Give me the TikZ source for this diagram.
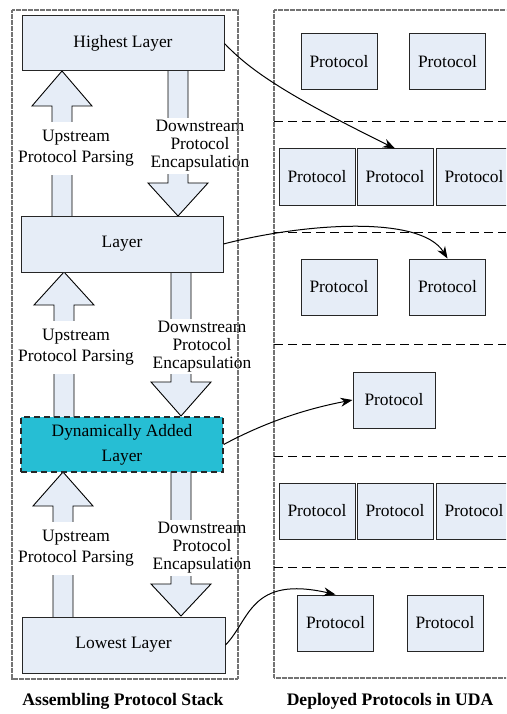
\documentclass[tikz,border=0pt]{standalone}
\usepackage{fontspec}
\setmainfont{Liberation Serif}
\newfontfamily\tms{Liberation Serif}
\usetikzlibrary{arrows.meta}
\definecolor{boxfill}{RGB}{230,237,247}
\definecolor{dynfill}{RGB}{38,190,212}
\begin{document}
\begin{tikzpicture}[x=1pt,y=-1pt,
  layerbox/.style={draw=black!85,line width=1pt,fill=boxfill,inner sep=0pt,font=\tms\fontsize{17.4}{20}\selectfont},
  protobox/.style={draw=black!85,line width=1pt,fill=boxfill,inner sep=0pt,minimum width=76,minimum height=56,font=\tms\fontsize{17.4}{20}\selectfont},
  fatarrow/.style={draw=black,line width=0.9pt,fill=boxfill,line join=miter},
  uplabel/.style={fill=white,inner xsep=1pt,inner ysep=8pt,align=center,font=\tms\fontsize{17.4}{21}\selectfont},
  downlabel/.style={fill=white,inner xsep=1pt,inner ysep=2pt,align=center,font=\tms\fontsize{17.4}{18}\selectfont},
  frame/.style={draw=black!55,line width=1.6pt,dash pattern=on 0.8pt off 0.4pt},
  sep/.style={draw=black,line width=1pt,dash pattern=on 9pt off 5pt},
  link/.style={draw=black,line width=1pt,-{Stealth[length=12pt,width=9pt]}},
  title/.style={font=\tms\bfseries\fontsize{17.6}{20}\selectfont}
]
\useasboundingbox (0,0) rectangle (506,714);
\begin{scope}
\clip (0,0) rectangle (506,714);
% fat arrows section 1
\draw[fatarrow] (52,216) -- (52,106) -- (32,106) -- (62,71) -- (92,106) -- (72,106) -- (72,216);
\draw[fatarrow] (168,71) -- (168,183) -- (148,183) -- (178,216) -- (208,183) -- (188,183) -- (188,71);
% section 2
\draw[fatarrow] (54,417) -- (54,305) -- (34,305) -- (64,272) -- (94,305) -- (74,305) -- (74,417);
\draw[fatarrow] (171,272) -- (171,382) -- (151,382) -- (181,416) -- (211,382) -- (191,382) -- (191,272);
% section 3
\draw[fatarrow] (53,617) -- (53,506) -- (33,506) -- (63,472) -- (93,506) -- (73,506) -- (73,617);
\draw[fatarrow] (171,472) -- (171,584) -- (151,584) -- (181,616) -- (211,584) -- (191,584) -- (191,472);

% labels
\node[uplabel] (up1) at (76,148.5) {Upstream\\Protocol Parsing};
\node[uplabel] (up2) at (76,347.5) {Upstream\\Protocol Parsing};
\node[uplabel] (up3) at (76,548.5) {Upstream\\Protocol Parsing};
\node[downlabel] (dn1) at (200,146) {Downstream\\Protocol\\Encapsulation};
\node[downlabel] (dn2) at (202,346.5) {Downstream\\Protocol\\Encapsulation};
\node[downlabel] (dn3) at (202,548) {Downstream\\Protocol\\Encapsulation};

% layer boxes
\node[layerbox,minimum width=202,minimum height=55] (hl) at (123,43.5) {Highest Layer};
\node[layerbox,minimum width=202,minimum height=56] (ly) at (122,244) {Layer};
\node[layerbox,fill=dynfill,dash pattern=on 6pt off 4pt,line width=1.4pt,minimum width=202,minimum height=55,align=center,font=\tms\fontsize{17.4}{25}\selectfont] (dy) at (122,444.5) {Dynamically Added\\Layer};
\node[layerbox,minimum width=203,minimum height=56] (lo) at (123.5,645) {Lowest Layer};

% frames
\draw[frame] (12,10) rectangle (238,679);
\draw[frame] (274,10) -- (520,10);
\draw[frame] (274,10) -- (274,678) -- (520,678);

% separators
\draw[sep] (274,122) -- (506,122);
\draw[sep] (274,232) -- (506,232);
\draw[sep] (274,344) -- (506,344);
\draw[sep] (274,456) -- (506,456);
\draw[sep] (274,567) -- (506,567);

% protocol boxes
\node[protobox] (p11) at (339,62) {Protocol};
\node[protobox] (p12) at (447.5,62) {Protocol};
\node[protobox] (p21) at (317,177) {Protocol};
\node[protobox] (p22) at (395,177) {Protocol};
\node[protobox] (p23) at (474,177) {Protocol};
\node[protobox] (p31) at (339,287) {Protocol};
\node[protobox] (p32) at (447.5,287) {Protocol};
\node[protobox,minimum width=82] (p41) at (394,400) {Protocol};
\node[protobox] (p51) at (317,511) {Protocol};
\node[protobox] (p52) at (395,511) {Protocol};
\node[protobox] (p53) at (474,511) {Protocol};
\node[protobox] (p61) at (335.5,623) {Protocol};
\node[protobox] (p62) at (445,623) {Protocol};

% links
\draw[link] (hl.east) .. controls (248,68) and (280,92) .. (p22.north);
\draw[link] (ly.east) .. controls (300,224) and (420,214) .. (p32.north);
\draw[link] (dy.east) .. controls (260,425) and (300,410) .. (p41.west);
\draw[link] (lo.east) .. controls (250,620) and (250,575) .. (p61.north);
\end{scope}

% titles
\node[title] (t1) at (123,701) {Assembling Protocol Stack};
\node[title] (t2) at (390,701) {Deployed Protocols in UDA};
\end{tikzpicture}
\end{document}
